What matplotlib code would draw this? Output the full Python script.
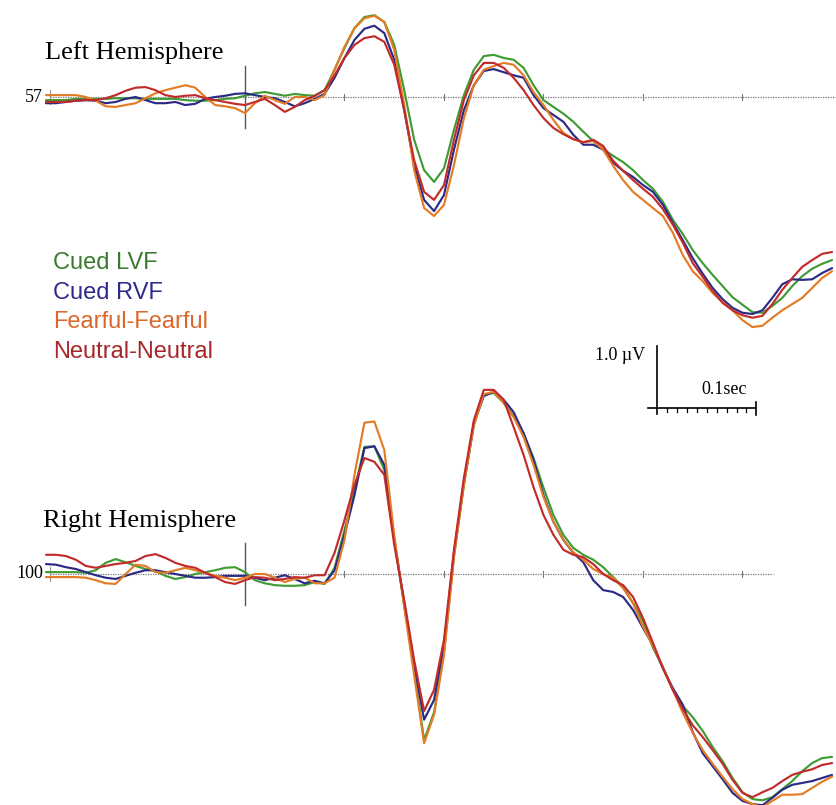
import numpy as np
import matplotlib
matplotlib.use("Agg")
import matplotlib.pyplot as plt

# time axis (ms relative to stimulus onset)
t = np.arange(-200, 600, 10)

conditions = ["Cued LVF", "Cued RVF", "Fearful-Fearful", "Neutral-Neutral"]
line_colors = ["#3f9b34", "#2b2a86", "#e47b25", "#c22b2b"]
text_colors = ["#3b7a2e", "#2e2a8c", "#d9682a", "#a8262a"]

# Left hemisphere, channel 57 (µV)
left_lvf = [-0.05, -0.05, -0.05, -0.03, -0.03, -0.03, -0.03, -0.02, -0.02, -0.02,
            -0.03, -0.03, -0.03, -0.03, -0.05, -0.06, -0.06, -0.05, -0.03, -0.02,
            0.02, 0.06, 0.08, 0.05, 0.02, 0.05, 0.03, 0.02, 0.11, 0.44,
            0.79, 1.11, 1.29, 1.32, 1.21, 0.84, 0.11, -0.69, -1.18, -1.37,
            -1.15, -0.53, 0.03, 0.44, 0.66, 0.68, 0.63, 0.60, 0.47, 0.19,
            -0.05, -0.16, -0.27, -0.40, -0.56, -0.71, -0.84, -0.95, -1.05, -1.18,
            -1.34, -1.48, -1.69, -1.98, -2.21, -2.47, -2.68, -2.87, -3.05, -3.23,
            -3.35, -3.47, -3.48, -3.37, -3.24, -3.05, -2.89, -2.77, -2.69, -2.63]
left_rvf = [-0.10, -0.10, -0.08, -0.06, -0.05, -0.06, -0.10, -0.08, -0.03, 0.00,
            -0.05, -0.10, -0.10, -0.08, -0.13, -0.11, -0.03, 0.00, 0.02, 0.05,
            0.06, 0.03, 0.00, -0.02, -0.08, -0.15, -0.10, -0.03, 0.05, 0.31,
            0.63, 0.92, 1.10, 1.15, 1.03, 0.60, -0.21, -1.10, -1.66, -1.84,
            -1.58, -0.85, -0.21, 0.19, 0.42, 0.45, 0.40, 0.35, 0.31, 0.03,
            -0.18, -0.29, -0.40, -0.61, -0.77, -0.77, -0.85, -1.06, -1.19, -1.29,
            -1.42, -1.53, -1.74, -2.03, -2.31, -2.60, -2.85, -3.08, -3.26, -3.40,
            -3.48, -3.50, -3.44, -3.24, -3.02, -2.94, -2.95, -2.94, -2.84, -2.76]
left_fear = [0.03, 0.03, 0.03, 0.03, 0.00, -0.06, -0.15, -0.16, -0.13, -0.10,
             -0.02, 0.06, 0.11, 0.15, 0.19, 0.15, 0.00, -0.13, -0.15, -0.18,
             -0.26, -0.10, 0.02, -0.05, -0.11, 0.00, 0.00, -0.05, 0.03, 0.44,
             0.81, 1.11, 1.27, 1.31, 1.21, 0.76, -0.13, -1.18, -1.79, -1.92,
             -1.74, -1.10, -0.34, 0.19, 0.44, 0.50, 0.55, 0.52, 0.35, 0.08,
             -0.13, -0.37, -0.58, -0.68, -0.73, -0.71, -0.85, -1.11, -1.34, -1.53,
             -1.66, -1.79, -1.92, -2.19, -2.55, -2.81, -2.97, -3.16, -3.31, -3.44,
             -3.60, -3.71, -3.69, -3.56, -3.44, -3.34, -3.24, -3.08, -2.92, -2.81]
left_neut = [-0.08, -0.08, -0.08, -0.06, -0.05, -0.05, -0.02, 0.03, 0.10, 0.15,
             0.16, 0.11, 0.03, 0.00, 0.02, 0.03, -0.02, -0.05, -0.08, -0.11,
             -0.13, -0.08, -0.03, -0.13, -0.24, -0.16, -0.05, 0.02, 0.11, 0.35,
             0.63, 0.84, 0.95, 0.98, 0.89, 0.52, -0.21, -1.02, -1.53, -1.66,
             -1.42, -0.69, -0.05, 0.35, 0.55, 0.55, 0.47, 0.31, 0.11, -0.13,
             -0.34, -0.50, -0.60, -0.68, -0.73, -0.69, -0.79, -1.03, -1.19, -1.34,
             -1.48, -1.61, -1.81, -2.06, -2.35, -2.68, -2.90, -3.13, -3.32, -3.44,
             -3.52, -3.56, -3.53, -3.34, -3.11, -2.92, -2.74, -2.63, -2.53, -2.50]

# Right hemisphere, channel 100 (µV)
right_lvf = [0.03, 0.03, 0.03, 0.03, 0.02, 0.06, 0.18, 0.24, 0.19, 0.13,
             0.08, 0.05, -0.03, -0.08, -0.05, 0.00, 0.03, 0.06, 0.10, 0.11,
             0.03, -0.10, -0.15, -0.18, -0.19, -0.19, -0.18, -0.13, -0.16, 0.10,
             0.71, 1.35, 2.05, 2.06, 1.68, 0.55, -0.50, -1.55, -2.68, -2.23,
             -1.26, 0.29, 1.44, 2.40, 2.89, 2.92, 2.76, 2.55, 2.27, 1.87,
             1.39, 0.95, 0.63, 0.42, 0.31, 0.23, 0.11, -0.05, -0.21, -0.47,
             -0.76, -1.19, -1.50, -1.87, -2.13, -2.31, -2.53, -2.79, -3.02, -3.29,
             -3.52, -3.63, -3.65, -3.60, -3.47, -3.34, -3.18, -3.05, -2.97, -2.95]
right_rvf = [0.16, 0.15, 0.11, 0.08, 0.03, -0.02, -0.06, -0.08, -0.03, 0.02,
             0.06, 0.06, 0.03, 0.00, -0.03, -0.06, -0.06, -0.05, -0.03, -0.03,
             -0.03, -0.06, -0.10, -0.06, -0.02, -0.08, -0.15, -0.11, -0.15, 0.06,
             0.63, 1.27, 2.03, 2.06, 1.76, 0.55, -0.47, -1.47, -2.35, -2.03,
             -1.15, 0.34, 1.48, 2.44, 2.87, 2.94, 2.81, 2.61, 2.27, 1.84,
             1.27, 0.84, 0.55, 0.34, 0.19, -0.10, -0.26, -0.29, -0.37, -0.58,
             -0.87, -1.15, -1.52, -1.84, -2.11, -2.55, -2.89, -3.10, -3.31, -3.53,
             -3.66, -3.71, -3.73, -3.61, -3.48, -3.40, -3.37, -3.34, -3.29, -3.24]
right_fear = [-0.05, -0.05, -0.05, -0.05, -0.06, -0.10, -0.15, -0.16, 0.00, 0.15,
              0.13, 0.03, 0.02, 0.06, 0.10, 0.06, 0.02, -0.03, -0.06, -0.10,
              -0.06, 0.00, 0.00, -0.06, -0.13, -0.08, -0.06, -0.15, -0.15, -0.06,
              0.55, 1.60, 2.44, 2.46, 2.00, 0.63, -0.53, -1.63, -2.73, -2.27,
              -1.31, 0.27, 1.44, 2.40, 2.90, 2.94, 2.76, 2.53, 2.21, 1.76,
              1.24, 0.84, 0.55, 0.35, 0.23, 0.08, 0.00, -0.06, -0.23, -0.47,
              -0.85, -1.16, -1.50, -1.87, -2.24, -2.56, -2.84, -3.06, -3.27, -3.47,
              -3.63, -3.71, -3.76, -3.66, -3.56, -3.56, -3.55, -3.45, -3.35, -3.27]
right_neut = [0.31, 0.31, 0.29, 0.23, 0.13, 0.10, 0.13, 0.16, 0.18, 0.21,
              0.29, 0.32, 0.26, 0.18, 0.13, 0.10, 0.02, -0.05, -0.13, -0.16,
              -0.10, -0.05, -0.06, -0.10, -0.08, -0.05, -0.06, -0.02, -0.02, 0.34,
              0.87, 1.44, 1.87, 1.81, 1.60, 0.47, -0.42, -1.39, -2.21, -1.87,
              -1.06, 0.39, 1.55, 2.48, 2.97, 2.97, 2.81, 2.37, 1.92, 1.40,
              0.95, 0.63, 0.39, 0.31, 0.27, 0.16, 0.00, -0.10, -0.18, -0.37,
              -0.71, -1.11, -1.52, -1.87, -2.18, -2.44, -2.63, -2.84, -3.06, -3.32,
              -3.53, -3.60, -3.52, -3.45, -3.34, -3.24, -3.19, -3.15, -3.08, -3.05]

left = [left_lvf, left_rvf, left_fear, left_neut]
right = [right_lvf, right_rvf, right_fear, right_neut]

serif = ["Liberation Serif", "DejaVu Serif"]
sans = ["Liberation Sans", "DejaVu Sans"]

fig = plt.figure(figsize=(8.36, 8.05), dpi=100)
W, H = 836, 805
xlim = (-245 / 0.995, (836 - 245) / 0.995)

# top panel covers pixel rows 0..430, bottom panel 380..805
ax1 = fig.add_axes([0, 1 - 430 / H, 1, 430 / H])
ax1.set_xlim(*xlim)
ax1.set_ylim((97 - 430) / 62, 97 / 62)
ax2 = fig.add_axes([0, 0, 1, 425 / H])
ax2.set_xlim(*xlim)
ax2.set_ylim((574 - 805) / 62, (574 - 380) / 62)
for ax in (ax1, ax2):
    ax.axis("off")
    ax.patch.set_alpha(0)


def baseline(ax, t_end):
    ax.plot([-196, t_end], [0, 0], color="#777777", lw=0.9, ls=(0, (1, 1)), zorder=1)
    for tk in range(100, t_end, 100):
        ax.plot([tk, tk], [-0.05, 0.05], color="#777777", lw=0.8, zorder=1)
    ax.plot([-196, -196], [-0.12, 0.12], color="#999999", lw=0.8, zorder=1)
    # stimulus onset
    ax.plot([0, 0], [-0.5, 0.5], color="#555555", lw=1.0, zorder=1)


baseline(ax1, 594)
baseline(ax2, 531)

for vals, c in zip(left, line_colors):
    ax1.plot(t, vals, color=c, lw=1.55, zorder=3, clip_on=False,
             solid_capstyle="round", solid_joinstyle="round")
for vals, c in zip(right, line_colors):
    ax2.plot(t, vals, color=c, lw=1.55, zorder=3, clip_on=False,
             solid_capstyle="round", solid_joinstyle="round")

ax1.text(-203, 0, "57", ha="right", va="center", fontsize=13, family=serif)
ax2.text(-203, 0, "100", ha="right", va="center", fontsize=13, family=serif)
ax1.text(-201, 0.72, "Left Hemisphere", ha="left", va="center", fontsize=19, family=serif)
ax2.text(-203, 0.85, "Right Hemisphere", ha="left", va="center", fontsize=19, family=serif)

# legend as coloured text
for i, (name, c) in enumerate(zip(conditions, text_colors)):
    ax1.text(-193, -2.68 - i * 0.475, name, color=c, ha="left", va="center",
             fontsize=17, family=sans)

# scale bar: 1.0 µV and 0.1 sec
t0, y0 = 414, (97 - 408) / 62
ax1.plot([t0, t0], [y0 - 0.1, y0 + 1.0], color="black", lw=1.2, clip_on=False)
ax1.plot([t0 - 9, t0 + 100], [y0, y0], color="black", lw=1.2, clip_on=False)
for k in range(1, 10):
    ax1.plot([t0 + 10 * k, t0 + 10 * k], [y0, y0 - 0.07], color="black", lw=0.9, clip_on=False)
ax1.plot([t0 + 100, t0 + 100], [y0 + 0.1, y0 - 0.12], color="black", lw=1.2, clip_on=False)
ax1.text(t0 - 12, y0 + 0.85, "1.0 µV", ha="right", va="center", fontsize=13, family=serif)
ax1.text(t0 + 68, y0 + 0.3, "0.1sec", ha="center", va="center", fontsize=13, family=serif)

fig.savefig("out.png", dpi=100)
